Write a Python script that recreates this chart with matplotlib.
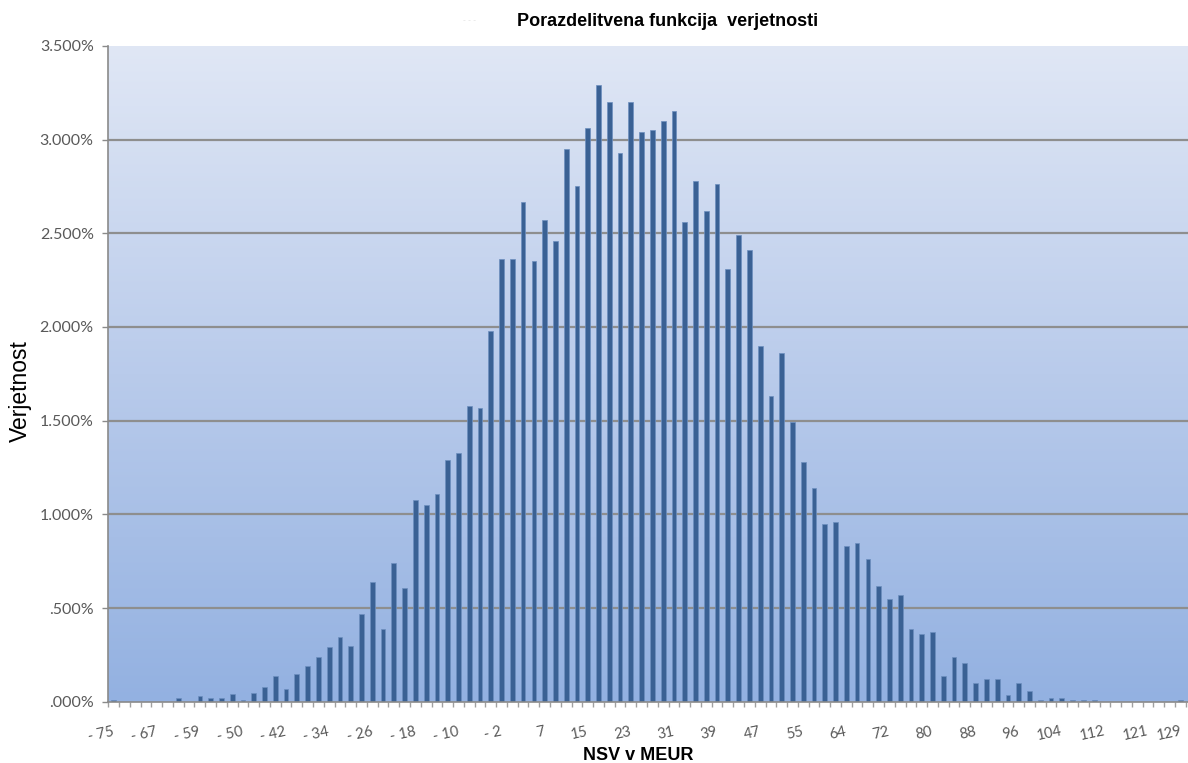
import numpy as np
import matplotlib
matplotlib.use("Agg")
import matplotlib.pyplot as plt
from matplotlib.colors import LinearSegmentedColormap
from matplotlib.ticker import FuncFormatter, MultipleLocator

# Probability (in %) for each NSV bin, from -75 to 129 MEUR
probability = [
    0.009, 0.0, 0.0, 0.0, 0.0, 0.0, 0.021, 0.0, 0.030, 0.021,
    0.021, 0.039, 0.009, 0.048, 0.080, 0.139, 0.068, 0.148, 0.190, 0.240,
    0.290, 0.347, 0.299, 0.468, 0.639, 0.390, 0.739, 0.608, 1.076, 1.048,
    1.108, 1.288, 1.329, 1.580, 1.567, 1.978, 2.361, 2.361, 2.668, 2.352,
    2.569, 2.458, 2.951, 2.750, 3.060, 3.291, 3.198, 2.930, 3.198, 3.042,
    3.051, 3.100, 3.150, 2.560, 2.779, 2.620, 2.761, 2.311, 2.489, 2.409,
    1.898, 1.631, 1.859, 1.491, 1.279, 1.140, 0.948, 0.959, 0.831, 0.847,
    0.760, 0.619, 0.548, 0.568, 0.390, 0.360, 0.370, 0.139, 0.239, 0.208,
    0.100, 0.121, 0.121, 0.037, 0.100, 0.059, 0.009, 0.021, 0.021, 0.009,
    0.009, 0.009, 0.0, 0.0, 0.0, 0.0, 0.0, 0.0, 0.0, 0.009,
    0.0,
]

# Axis labels shown on every 4th bin
nsv_labels = ["- 75", "- 67", "- 59", "- 50", "- 42", "- 34", "- 26", "- 18",
              "- 10", "- 2", "7", "15", "23", "31", "39", "47", "55", "64",
              "72", "80", "88", "96", "104", "112", "121", "129"]
label_step = 4

title = "Porazdelitvena funkcija  verjetnosti"
x_title = "NSV v MEUR"
y_title = "Verjetnost"

W, H = 1188, 763
fig = plt.figure(figsize=(W / 100, H / 100), dpi=100)
fig.patch.set_facecolor("white")

left_px, right_px, bottom_px, top_px = 108.3, 1196.5, 701.7, 45.8
ax = fig.add_axes([left_px / W, (H - bottom_px) / H,
                   (right_px - left_px) / W, (bottom_px - top_px) / H])
ax.set_facecolor("none")

# vertical gradient for the plot area
grad_cmap = LinearSegmentedColormap.from_list(
    "area", ["#93b1e1", "#b9cbeb", "#e0e7f5"])
ax.imshow(np.linspace(0, 1, 256).reshape(-1, 1), cmap=grad_cmap,
          origin="lower", extent=[0, 1, 0, 1], transform=ax.transAxes,
          aspect="auto", zorder=0, interpolation="bicubic")

x = np.arange(len(probability))
n = len(probability)

# horizontal gridlines
for g in np.arange(0.5, 3.01, 0.5):
    ax.axhline(g, color="#8e8e8e", lw=1.6, zorder=1)

ax.bar(x, probability, width=0.44, color="#3a6194",
       edgecolor="#6d8fbf", linewidth=0.5, zorder=3)

ax.set_xlim(-0.5, n - 0.5)
ax.set_ylim(0, 3.5)

for s in ("top", "right"):
    ax.spines[s].set_visible(False)
for s in ("left", "bottom"):
    ax.spines[s].set_color("#8a8a8a")
    ax.spines[s].set_linewidth(1.2)
    ax.spines[s].set_zorder(4)

# y axis: percentages with three decimals, leading zero dropped
def pct(v, _):
    s = f"{v:.3f}%"
    return s[1:] if s.startswith("0.") else s

ax.yaxis.set_major_locator(MultipleLocator(0.5))
ax.yaxis.set_major_formatter(FuncFormatter(pct))
ax.tick_params(axis="y", direction="out", length=4.5, width=1, color="#8a8a8a",
               labelcolor="#595959", labelsize=11.5, pad=6)
for lab in ax.get_yticklabels():
    lab.set_family("Lato")

# x axis: tick marks between bins, labels every 4th bin
ax.set_xticks(np.arange(-0.5, n, 1))
ax.set_xticklabels([])
ax.tick_params(axis="x", direction="out", length=3.5, width=1, color="#a0a0a0")

for k, lab in enumerate(nsv_labels):
    pos = min(k * label_step, n - 1.85)
    ax.text(pos, -0.045, lab, transform=ax.get_xaxis_transform(),
            ha="right", va="center", rotation=12, rotation_mode="anchor",
            fontsize=10.5, color="#595959", family="Lato", clip_on=False)

fig.text(667.5 / W, 1 - 22 / H, title, ha="center", va="center",
         fontsize=13, fontweight="bold", family="Liberation Sans", color="black")
fig.text(470 / W, 1 - 21 / H, "- - -", ha="center", va="center",
         fontsize=6, color="#dedede", family="Liberation Sans")
fig.text(638 / W, 1 - 755 / H, x_title, ha="center", va="center",
         fontsize=13, fontweight="bold", family="Liberation Sans", color="black")
fig.text(20 / W, 1 - 391 / H, y_title, ha="center", va="center", rotation=90,
         fontsize=16.5, family="Liberation Sans", color="black")

fig.savefig("out.png", dpi=100)
